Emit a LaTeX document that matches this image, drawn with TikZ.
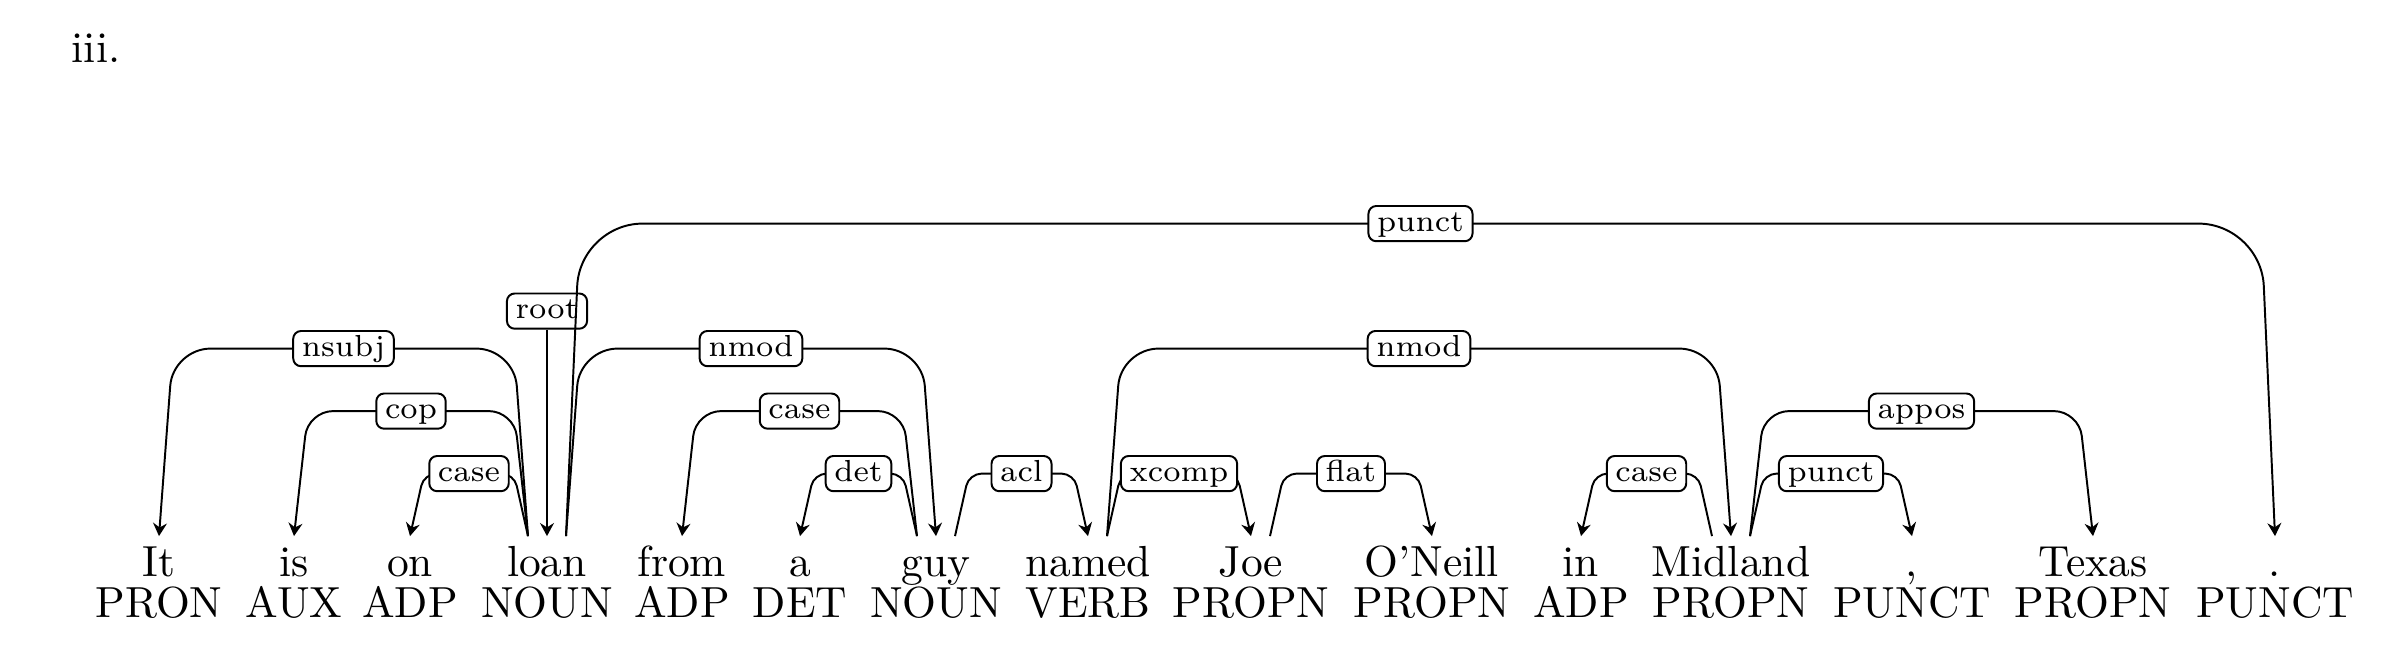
\documentclass[tikz,border=0pt]{standalone}
\usetikzlibrary{arrows.meta,calc}
\tikzset{
  tok/.style={anchor=base, inner xsep=0pt, inner ysep=2pt, text height=7.2pt, font=\normalsize},
  lab/.style={draw, fill=white, rounded corners=1.8pt, font=\scriptsize, inner xsep=2pt, inner ysep=0.8pt,
              text height=5pt, text depth=1.5pt, line width=0.45pt},
  dep/.style={line width=0.45pt, -{Stealth[length=3pt,width=3.2pt,inset=1pt]}},
}
% #1 source node, #2 target node, #3 direction (1 right, -1 left), #4 level, #5 label name, #6 label text
\newcommand{\depArc}[6]{%
  \draw[dep, rounded corners=#4*2.874pt]
    ($(#1.north)+(#3*19,0)$) -- ($(#1.north)+(#3*33,-#4*62.5)$)
    -- node[lab] (#5) {#6} ($(#2.north)+(#3*-14,-#4*62.5)$) -- (#2.north);
}
\begin{document}
\begin{tikzpicture}[x=0.2299pt, y=-0.2299pt]
  \useasboundingbox (0,0) rectangle (2390,646);
  \node[anchor=base west, inner sep=0pt, font=\normalsize] (num) at (71,63) {iii.};

  % words
  \node[tok] (w1)  at (159,577)  {It};
  \node[tok] (w2)  at (294,577)  {is};
  \node[tok] (w3)  at (410,577)  {on};
  \node[tok] (w4)  at (547,577)  {loan};
  \node[tok] (w5)  at (682,577)  {from};
  \node[tok] (w6)  at (800,577)  {a};
  \node[tok] (w7)  at (936,577)  {guy};
  \node[tok] (w8)  at (1088,577) {named};
  \node[tok] (w9)  at (1251,577) {Joe};
  \node[tok] (w10) at (1432,577) {O'Neill};
  \node[tok] (w11) at (1581,577) {in};
  \node[tok] (w12) at (1731,577) {Midland};
  \node[tok] (w13) at (1912,577) {,};
  \node[tok] (w14) at (2093,577) {Texas};
  \node[tok] (w15) at (2275,577) {.};

  % tags
  \node[tok] (t1)  at (159,618)  {PRON};
  \node[tok] (t2)  at (294,618)  {AUX};
  \node[tok] (t3)  at (410,618)  {ADP};
  \node[tok] (t4)  at (547,618)  {NOUN};
  \node[tok] (t5)  at (682,618)  {ADP};
  \node[tok] (t6)  at (800,618)  {DET};
  \node[tok] (t7)  at (936,618)  {NOUN};
  \node[tok] (t8)  at (1088,618) {VERB};
  \node[tok] (t9)  at (1251,618) {PROPN};
  \node[tok] (t10) at (1432,618) {PROPN};
  \node[tok] (t11) at (1581,618) {ADP};
  \node[tok] (t12) at (1731,618) {PROPN};
  \node[tok] (t13) at (1912,618) {PUNCT};
  \node[tok] (t14) at (2093,618) {PROPN};
  \node[tok] (t15) at (2275,618) {PUNCT};

  % root
  \node[lab] (lroot) at ($(w4.north)+(0,-225)$) {root};
  \draw[dep] (lroot.south) -- (w4.north);

  % edges
  \depArc{w4}{w1}{-1}{3}{l1}{nsubj}
  \depArc{w4}{w2}{-1}{2}{l2}{cop}
  \depArc{w4}{w3}{-1}{1}{l3}{case}
  \depArc{w4}{w15}{1}{5}{l4}{punct}
  \depArc{w4}{w7}{1}{3}{l5}{nmod}
  \depArc{w7}{w5}{-1}{2}{l6}{case}
  \depArc{w7}{w6}{-1}{1}{l7}{det}
  \depArc{w7}{w8}{1}{1}{l8}{acl}
  \depArc{w8}{w12}{1}{3}{l9}{nmod}
  \depArc{w8}{w9}{1}{1}{l10}{xcomp}
  \depArc{w9}{w10}{1}{1}{l11}{flat}
  \depArc{w12}{w11}{-1}{1}{l12}{case}
  \depArc{w12}{w14}{1}{2}{l13}{appos}
  \depArc{w12}{w13}{1}{1}{l14}{punct}
\end{tikzpicture}
\end{document}
